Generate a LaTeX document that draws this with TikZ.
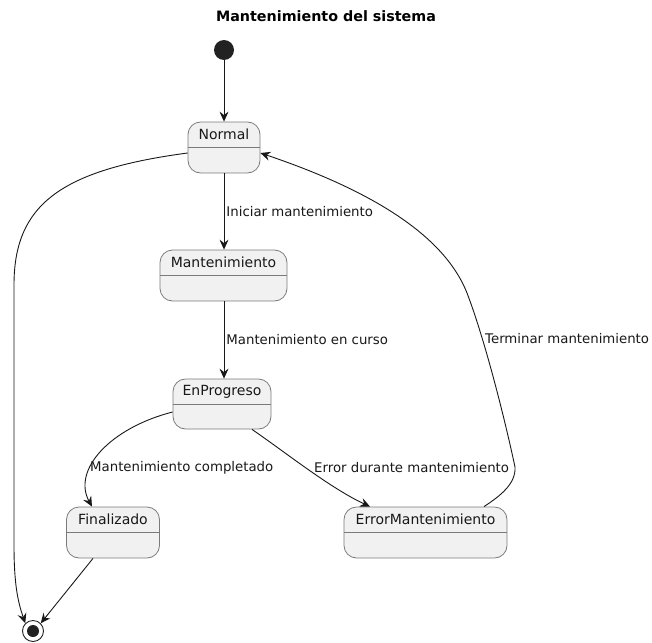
\documentclass[tikz,border=0pt]{standalone}
\usepackage{fontspec}
\setmainfont{DejaVu Sans}
\usetikzlibrary{arrows.meta,calc}
\definecolor{statefill}{HTML}{F1F1F1}
\definecolor{stateline}{HTML}{7A7A7A}
\definecolor{ink}{HTML}{181818}
\definecolor{dot}{HTML}{222222}
\tikzset{
  statebox/.style={draw=stateline, fill=statefill, line width=0.8pt,
    rounded corners=12.5pt, inner sep=0pt},
  statename/.style={inner sep=0pt, font=\fontsize{14}{16}\selectfont, text=ink},
  divider/.style={draw=stateline, line width=0.8pt},
  trans/.style={draw=ink, line width=0.9pt,
    -{Stealth[length=10pt,width=9pt,inset=3.5pt]}},
  translabel/.style={inner sep=0pt, font=\fontsize{13.3}{15}\selectfont, text=ink},
}
\newcommand{\stategroup}[6]{%
  % #1 name, #2 centre x, #3 centre y, #4 width, #5 height, #6 text
  \node[statebox, minimum width=#4pt, minimum height=#5pt] (#1) at (#2,#3) {};
  \node[statename] (#1-name) at ($(#1.north)+(0,13)$) {#6};
  \draw[divider] ($(#1.north west)+(0,26)$) -- ($(#1.north east)+(0,26)$);
}
\begin{document}
\begin{tikzpicture}[x=1pt,y=-1pt]
\useasboundingbox (0,0) rectangle (652,642);

% title
\node[inner sep=0pt, font=\bfseries\fontsize{14.3}{16}\selectfont, text=black] (title) at (326,16) {Mantenimiento del sistema};

% start and end points
\node[circle, fill=dot, minimum size=20pt, inner sep=0pt] (start) at (224,50) {};
\node[circle, draw=dot, fill=white, line width=0.9pt, minimum size=21pt, inner sep=0pt] (finish) at (33,631) {};
\node[circle, fill=dot, minimum size=12pt, inner sep=0pt] (finishdot) at (finish) {};

% states
\stategroup{normal}{224}{147.5}{72}{51}{Normal}
\stategroup{mant}{223.5}{275.5}{127}{51}{Mantenimiento}
\stategroup{prog}{222}{404}{98}{50}{EnProgreso}
\stategroup{fin}{113}{532.5}{93}{51}{Finalizado}
\stategroup{err}{425.5}{532.5}{163}{51}{ErrorMantenimiento}

% transitions down the main column
\draw[trans] (start) -- (normal);
\draw[trans] (normal) -- node[translabel, anchor=west, xshift=2pt] {Iniciar mantenimiento} (mant.north -| start);
\draw[trans] (mant.south -| start) -- node[translabel, anchor=west, xshift=2pt] {Mantenimiento en curso} (prog.north -| start);

% branches out of EnProgreso
\draw[trans] (prog.west |- 0,412) .. controls (110,428) and (72,470) .. (fin.north west -| 92,0);
\node[translabel, anchor=west] (lblfin) at (90,468) {Mantenimiento completado};

\draw[trans] (prog.south east -| 252,0) .. controls (285,452) and (330,488) .. (err.north west -| 370,0);
\node[translabel, anchor=west] (lblerr) at (314,468) {Error durante mantenimiento};

% return from ErrorMantenimiento to Normal
\coordinate (bend) at (515,467);
\coordinate (shoulder) at (467,293);
\draw[trans] (err.north west -| 484,0) .. controls (500,496) and (516,484) .. (bend)
  .. controls (505,420) and (485,340) .. (shoulder)
  .. controls (450,250) and (400,200) .. (normal.east |- 0,153);
\node[translabel, anchor=west] (lblend) at (485,339) {Terminar mantenimiento};

% exits to the final state
\coordinate (leftrun) at (14,285);
\coordinate (leftlow) at (14,545);
\draw[trans] (normal.west |- 0,153) .. controls (60,170) and (14,205) .. (leftrun)
  -- (leftlow) .. controls (14,585) and (18,602) .. (finish.north west);
\draw[trans] (fin.south west -| 93,0) -- (finish.north east);
\end{tikzpicture}
\end{document}
